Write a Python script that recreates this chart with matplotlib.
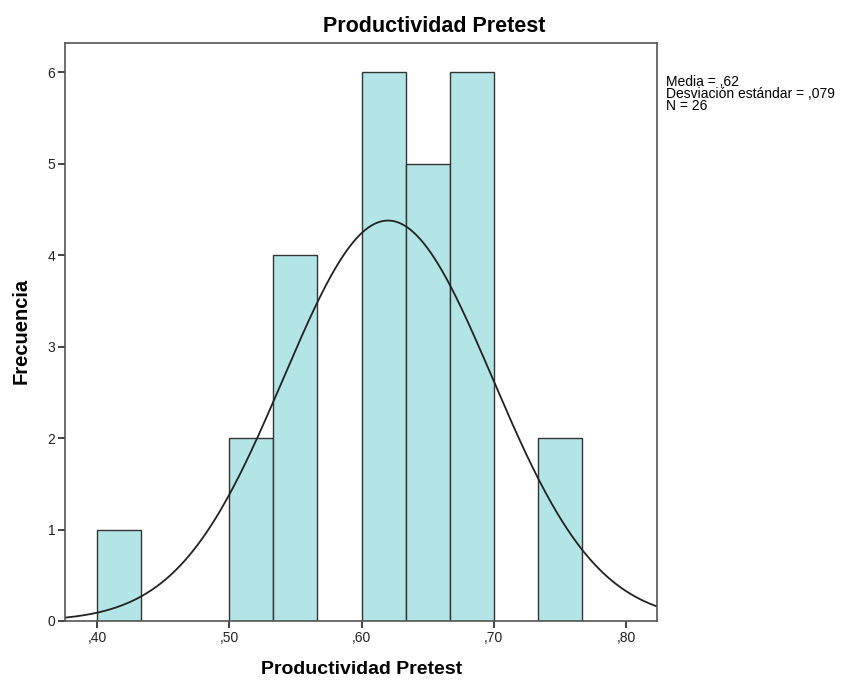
import numpy as np
import matplotlib.pyplot as plt

plt.rcParams["font.family"] = ["Liberation Sans", "DejaVu Sans"]

# histogram bins (width 1/30) and counts
bin_edges = [0.40, 0.4333, 0.4667, 0.50, 0.5333, 0.5667, 0.60, 0.6333, 0.6667, 0.70, 0.7333, 0.7667]
counts = [1, 0, 0, 2, 4, 0, 6, 5, 6, 0, 2]
media = 0.62
desv = 0.079
n = 26
x_ticks = [0.40, 0.50, 0.60, 0.70, 0.80]
x_labels = [",40", ",50", ",60", ",70", ",80"]
y_ticks = [0, 1, 2, 3, 4, 5, 6]

fig = plt.figure(figsize=(8.55, 6.8), dpi=100)
ax = fig.add_axes([65 / 855, 59 / 680, 592 / 855, 578 / 680])

lefts = np.array(bin_edges[:-1])
widths = np.diff(bin_edges)
for l, w, c in zip(lefts, widths, counts):
    if c > 0:
        ax.bar(l, c, width=w, align="edge", color="#b4e5e6", edgecolor="#333333", linewidth=1.0)

# normal curve scaled to counts
xs = np.linspace(0.37, 0.83, 400)
bw = 1 / 30
ys = n * bw / (desv * np.sqrt(2 * np.pi)) * np.exp(-0.5 * ((xs - media) / desv) ** 2)
ax.plot(xs, ys, color="#222222", linewidth=1.3)

ax.set_xlim(0.3758, 0.8234)
ax.set_ylim(0, 6.317)
ax.set_xticks(x_ticks)
ax.set_xticklabels(x_labels)
ax.set_yticks(y_ticks)
ax.tick_params(direction="out", length=5, width=1.2, labelsize=10, colors="#222222", pad=2)
for s in ax.spines.values():
    s.set_color("#555555")
    s.set_linewidth(1.2)

fig.text(434 / 855, 1 - 32 / 680, "Productividad Pretest", ha="center", va="baseline",
         fontsize=15.5, fontweight="bold")
fig.text(362 / 855, 1 - 674 / 680, "Productividad Pretest", ha="center", va="baseline",
         fontsize=14, fontweight="bold")
fig.text(21 / 855, 1 - 331 / 680, "Frecuencia", ha="center", va="center",
         rotation=90, fontsize=14.5, fontweight="bold")
fig.text(666 / 855, 1 - 75 / 680,
         "Media = ,62\nDesviación estándar = ,079\nN = 26",
         ha="left", va="top", fontsize=10, linespacing=0.82)

fig.savefig("out.png", dpi=100)
